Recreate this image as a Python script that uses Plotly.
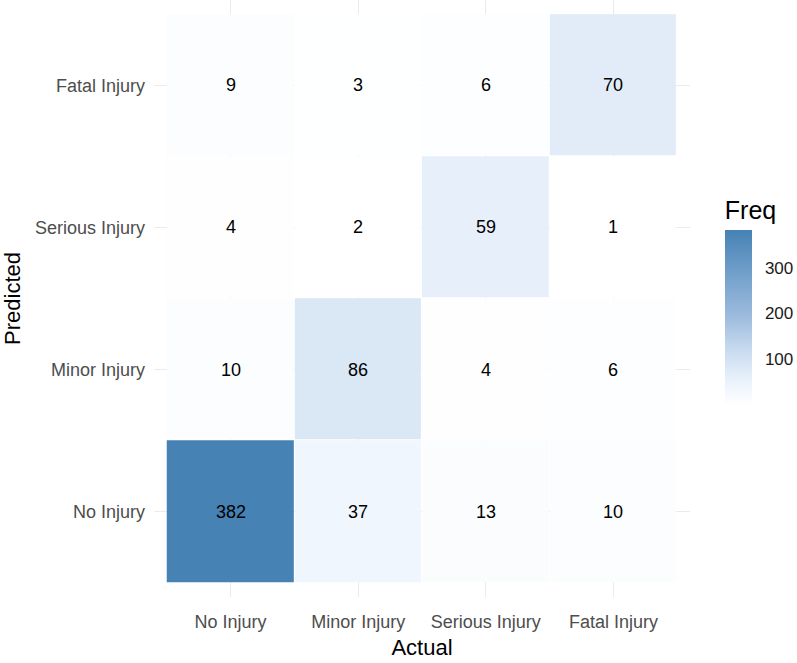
import plotly.graph_objects as go

actual = ["No Injury", "Minor Injury", "Serious Injury", "Fatal Injury"]
predicted = ["No Injury", "Minor Injury", "Serious Injury", "Fatal Injury"]
# rows = predicted (bottom to top), columns = actual
freq_no_injury = [382, 37, 13, 10]
freq_minor_injury = [10, 86, 4, 6]
freq_serious_injury = [4, 2, 59, 1]
freq_fatal_injury = [9, 3, 6, 70]
z = [freq_no_injury, freq_minor_injury, freq_serious_injury, freq_fatal_injury]
colorbar_ticks = [100, 200, 300]

# white -> steelblue gradient
colorscale = [
    [0.0, "#ffffff"],
    [0.1, "#eff6fd"],
    [0.2, "#dfeaf7"],
    [0.35, "#c0d5ec"],
    [0.5, "#9ebcdd"],
    [0.75, "#72a0cb"],
    [1.0, "#4682b4"],
]

FONT = "Liberation Sans, Arial, sans-serif"

fig = go.Figure(
    go.Heatmap(
        x=actual,
        y=predicted,
        z=z,
        colorscale=colorscale,
        xgap=1,
        ygap=1,
        texttemplate="%{z}",
        textfont=dict(family=FONT, size=18, color="black"),
        colorbar=dict(
            title=dict(text="Freq", side="top",
                       font=dict(family=FONT, size=25, color="black")),
            thickness=27,
            lenmode="pixels",
            len=208,
            x=1.065,
            xanchor="left",
            y=0.496,
            yanchor="middle",
            xpad=0,
            ypad=0,
            outlinewidth=0,
            tickvals=colorbar_ticks,
            ticks="outside",
            ticklen=10,
            tickcolor="white",
            tickfont=dict(family=FONT, size=17, color="#1a1a1a"),
        ),
    )
)

axis_common = dict(
    type="category",
    range=[-0.6, 3.6],
    showgrid=True,
    gridcolor="#ebebeb",
    gridwidth=1,
    zeroline=False,
    showline=False,
    ticks="",
    tickfont=dict(family=FONT, size=18, color="#4d4d4d"),
)

fig.update_layout(
    width=797,
    height=663,
    margin=dict(l=154, r=107, t=0, b=66),
    paper_bgcolor="white",
    plot_bgcolor="white",
    font=dict(family=FONT),
    xaxis=dict(
        **axis_common,
        title=dict(text="Actual", font=dict(size=22, color="black"), standoff=8),
        ticklabelstandoff=12,
    ),
    yaxis=dict(
        **axis_common,
        title=dict(text="Predicted", font=dict(size=22, color="black"), standoff=8),
        ticklabelstandoff=8,
    ),
)

fig.write_html("out.html")
